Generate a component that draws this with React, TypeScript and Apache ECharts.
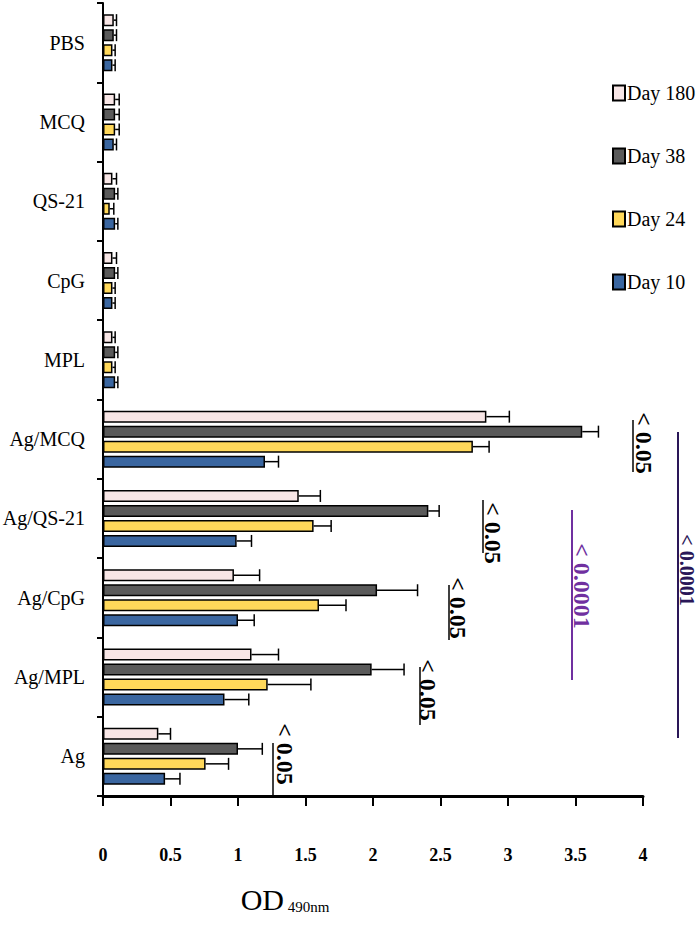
import React, { useEffect, useRef } from "react";
import * as echarts from "echarts";

const categories = ["Ag", "Ag/MPL", "Ag/CpG", "Ag/QS-21", "Ag/MCQ", "MPL", "CpG", "QS-21", "MCQ", "PBS"];
const seriesNames = ["Day 180", "Day 38", "Day 24", "Day 10"];
const day180 = [0.41, 1.10, 0.97, 1.45, 2.84, 0.07, 0.07, 0.07, 0.09, 0.08];
const day38 = [1.00, 1.99, 2.03, 2.41, 3.55, 0.09, 0.09, 0.09, 0.09, 0.08];
const day24 = [0.76, 1.22, 1.60, 1.56, 2.74, 0.07, 0.07, 0.05, 0.09, 0.07];
const day10 = [0.46, 0.90, 1.00, 0.99, 1.20, 0.09, 0.07, 0.09, 0.08, 0.07];
const err180 = [0.09, 0.20, 0.19, 0.16, 0.17, 0.02, 0.03, 0.03, 0.03, 0.02];
const err38 = [0.18, 0.24, 0.30, 0.08, 0.12, 0.02, 0.02, 0.02, 0.03, 0.02];
const err24 = [0.17, 0.32, 0.20, 0.13, 0.12, 0.02, 0.02, 0.03, 0.03, 0.02];
const err10 = [0.11, 0.18, 0.12, 0.11, 0.10, 0.02, 0.02, 0.02, 0.02, 0.02];
const xTicks = { min: 0, max: 4, interval: 0.5 };
const colors = ["#F8E6E6", "#5A5A5A", "#FFD85A", "#3A66A0"];

const values = [day180, day38, day24, day10];
const errors = [err180, err38, err24, err10];

const BAR_W = 12;
const BAR_GAP = 0.25;

export default function App() {
  const ref = useRef<HTMLDivElement>(null);
  useEffect(() => {
    document.body.style.margin = "0";
    const chart = echarts.init(ref.current!, null, { renderer: "svg" });
    const font = "Liberation Serif";
    const pitch = BAR_W * (1 + BAR_GAP);
    const total = BAR_W * 4 + BAR_W * BAR_GAP * 3;

    const barSeries = seriesNames.map((name, i) => ({
      name,
      type: "bar",
      data: values[i],
      barWidth: BAR_W,
      barGap: BAR_GAP * 100 + "%",
      itemStyle: { color: colors[i], borderColor: "#000", borderWidth: 1.5 },
    }));

    const errSeries = seriesNames.map((name, i) => ({
      name: name + " err",
      type: "custom",
      encode: { x: 0, y: 1 },
      data: values[i].map((v, c) => [v, c, errors[i][c]]),
      z: 3,
      renderItem: (params: any, api: any) => {
        const v = api.value(0);
        const c = api.value(1);
        const e = api.value(2);
        const p0 = api.coord([v, c]);
        const p1 = api.coord([v + e, c]);
        const y = p0[1] - total / 2 + i * pitch + BAR_W / 2;
        return {
          type: "group",
          children: [
            { type: "line", shape: { x1: p0[0], y1: y, x2: p1[0], y2: y }, style: { stroke: "#000", lineWidth: 1.5 } },
            { type: "line", shape: { x1: p1[0], y1: y - 6, x2: p1[0], y2: y + 6 }, style: { stroke: "#000", lineWidth: 1.5 } },
          ],
        };
      },
    }));

    const rotText = (text: string, x: number, y: number, color: string, size = 24) => ({
      type: "text",
      x,
      y,
      rotation: -Math.PI / 2,
      style: {
        text,
        fill: color,
        font: `bold ${size}px "${font}"`,
        align: "center",
        verticalAlign: "middle",
      },
    });
    const vline = (x: number, y1: number, y2: number, color: string, w = 1.5) => ({
      type: "line",
      shape: { x1: x, y1, x2: x, y2 },
      style: { stroke: color, lineWidth: w },
    });
    const purple = "#7030A0";
    const navy = "#2A1758";

    chart.setOption({
      animation: false,
      grid: { left: 103, right: 57, top: 3, bottom: 134, outerBoundsMode: "none", containLabel: false },
      legend: {
        data: seriesNames,
        orient: "vertical",
        left: 607,
        top: 78,
        icon: "rect",
        itemWidth: 12,
        itemHeight: 15,
        itemGap: 43,
        textStyle: { fontFamily: font, fontSize: 20, color: "#000", padding: [0, 0, 0, -3] },
      },
      xAxis: {
        type: "value",
        min: xTicks.min,
        max: xTicks.max,
        interval: xTicks.interval,
        splitLine: { show: false },
        axisLine: { show: true, lineStyle: { color: "#000", width: 3 } },
        axisTick: { show: true, length: 10, lineStyle: { color: "#000", width: 2 } },
        axisLabel: { fontFamily: font, fontSize: 18, fontWeight: "bold", color: "#000", margin: 50 },
        name: "{a|OD}{b| 490nm}",
        nameLocation: "middle",
        nameGap: 88,
        nameTextStyle: {
          padding: [0, 176, 0, 0],
          rich: {
            a: { fontFamily: font, fontSize: 30, color: "#000", verticalAlign: "bottom" },
            b: { fontFamily: font, fontSize: 15, color: "#000", verticalAlign: "bottom" },
          },
        },
      },
      yAxis: {
        type: "category",
        data: categories,
        axisLine: { show: true, lineStyle: { color: "#000", width: 2 } },
        axisTick: { show: true, length: 6, lineStyle: { color: "#000", width: 2 } },
        axisLabel: { fontFamily: font, fontSize: 20, color: "#000", margin: 18 },
      },
      series: [...barSeries, ...errSeries],
      graphic: [
        vline(273, 743, 796, "#000"),
        rotText("< 0.05", 285, 754, "#000"),
        vline(420, 667, 725, "#000"),
        rotText("< 0.05", 428, 690, "#000"),
        vline(449, 585, 640, "#000"),
        rotText("< 0.05", 458, 608, "#000"),
        vline(483, 500, 553, "#000"),
        rotText("< 0.05", 493, 533, "#000"),
        vline(633, 420, 472, "#000"),
        rotText("< 0.05", 644, 443, "#000"),
        vline(572, 510, 680, purple, 2),
        rotText("< 0.0001", 582, 586, purple),
        vline(678, 432, 738, navy, 2),
        rotText("< 0.0001", 687, 570, navy, 20),
      ],
    });
    return () => chart.dispose();
  }, []);
  return <div ref={ref} style={{ width: 700, height: 930 }} />;
}
